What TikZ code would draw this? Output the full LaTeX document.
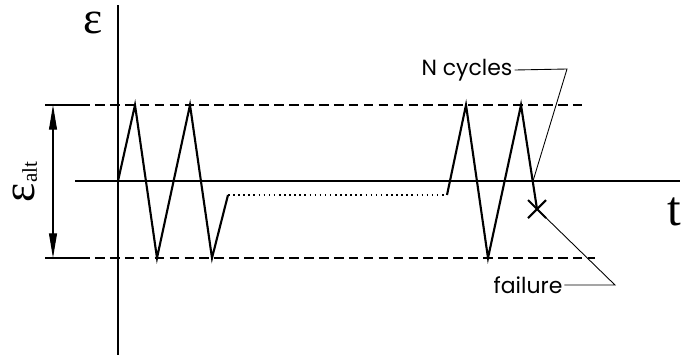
\documentclass[tikz,border=0pt]{standalone}
\usepackage{fontspec}
\setmainfont{Liberation Serif}
\newfontfamily\tagfont{Poppins}
\usetikzlibrary{arrows.meta,calc}

\begin{document}
\begin{tikzpicture}[x=0.02cm, y=-0.02cm,
  axis/.style={line width=1.2pt},
  wave/.style={line width=1.2pt, line join=miter},
  limit/.style={line width=0.8pt, dash pattern=on 5.5pt off 3pt},
  ext/.style={line width=0.7pt},
  dim/.style={line width=0.6pt, {Triangle[length=14pt,width=4.5pt]}-{Triangle[length=14pt,width=4.5pt]}},
  lead/.style={line width=0.5pt},
  tag/.style={font=\tagfont\fontsize{12.5}{14}\selectfont, inner sep=1pt},
  sym/.style={font=\fontsize{26}{28}\selectfont, inner sep=1pt}]
  \useasboundingbox (0,0) rectangle (683,363);

  % axes
  \coordinate (o) at (118,181);
  \draw[axis] (118,5) -- (118,355);
  \draw[axis] (75,181) -- (680,181);
  \node[sym, anchor=base, text height=12pt, text depth=0pt] (eps) at (93,33) {ε};
  \node[sym, font=\fontsize{28}{30}\selectfont] (tlab) at (674,212) {t};

  % amplitude limits
  \draw[ext] (45,105) -- (80,105);
  \draw[ext] (45,258) -- (80,258);
  \draw[limit] (80,105) -- (582,105);
  \draw[limit] (80,258) -- (595,258);
  \draw[dim] (53,105) -- (53,258);
  \node[sym, rotate=90] (alt) at (25,182) {ε\fontsize{12}{14}\selectfont\raisebox{-1.5pt}{alt}};

  % strain history
  \coordinate (a1) at (135,105);
  \coordinate (a2) at (157,258);
  \coordinate (a3) at (190,105);
  \coordinate (a4) at (212,258);
  \coordinate (a5) at (228,195);
  \coordinate (b0) at (447,195);
  \coordinate (b1) at (466,105);
  \coordinate (b2) at (488,258);
  \coordinate (b3) at (521,105);
  \coordinate (fail) at (537,209);
  \coordinate (cross) at (533,181);
  \draw[wave] (o) -- (a1) -- (a2) -- (a3) -- (a4) -- (a5);
  \draw[line width=0.9pt, dotted] (a5) -- (b0);
  \draw[wave] (b0) -- (b1) -- (b2) -- (b3) -- (fail);
  \draw[wave] ($(fail)+(-9,-9)$) -- ($(fail)+(9,9)$);
  \draw[wave] ($(fail)+(-9,9)$) -- ($(fail)+(9,-9)$);

  % labels
  \node[tag] (ncyc) at (467,70) {N cycles};
  \draw[lead] (ncyc.east) -- (567,69) -- (cross);
  \node[tag] (flab) at (528,285) {failure};
  \draw[lead] (flab.east) -- (615,285) -- (fail);
\end{tikzpicture}
\end{document}
